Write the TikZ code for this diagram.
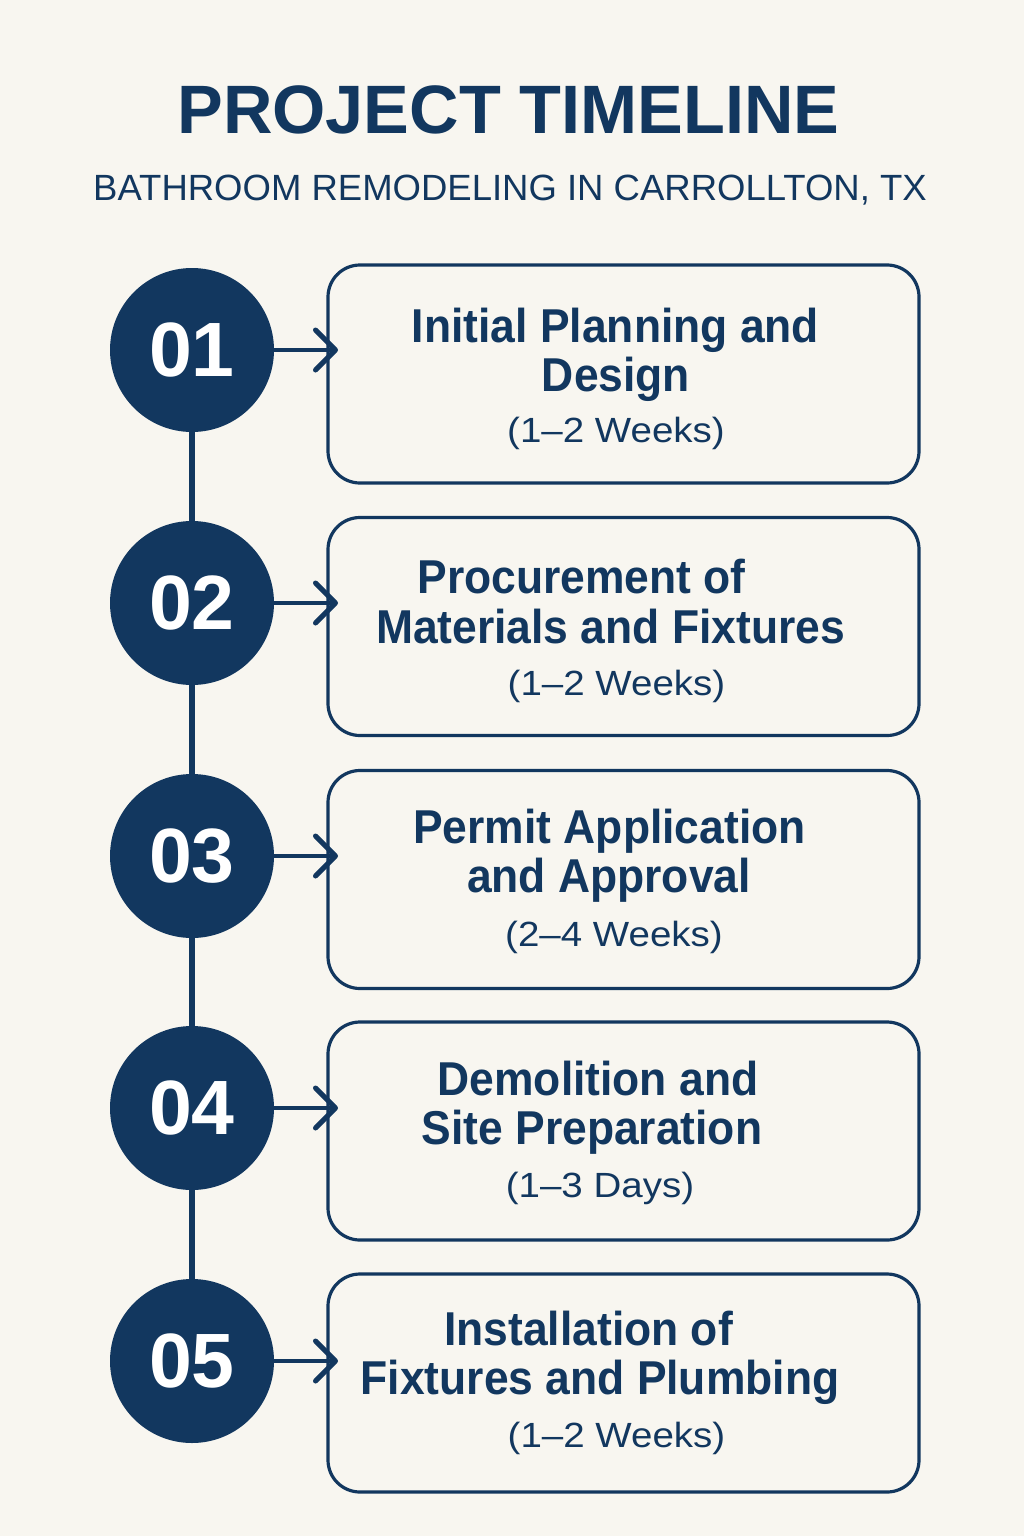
\documentclass[tikz,border=0pt]{standalone}
\usepackage{fontspec}
\setmainfont{Liberation Sans}
\newfontfamily\boldbody{Liberation Sans}[FakeStretch=0.935]
\newfontfamily\regbody{Liberation Sans}[FakeStretch=1.1]
\usetikzlibrary{arrows.meta}
\definecolor{navy}{HTML}{12375F}
\definecolor{cream}{HTML}{F8F6F0}
\tikzset{
  stepcircle/.style={circle, fill=navy, minimum size=164pt, inner sep=0pt,
    text=white, font=\fontsize{77}{80}\selectfont\bfseries},
  stepbox/.style={draw=navy, line width=3.2pt, rounded corners=32pt, fill=cream,
    minimum width=591pt, minimum height=218pt, inner sep=0pt},
  boldline/.style={anchor=base, inner sep=0pt, text=navy,
    font=\boldbody\fontsize{47.5}{50}\selectfont\bfseries},
  durline/.style={anchor=base, inner sep=0pt, text=navy,
    font=\regbody\fontsize{35}{40}\selectfont},
  spine/.style={draw=navy, line width=5.5pt},
  pointer/.style={draw=navy, line width=4.5pt, line cap=round,
    -{Straight Barb[length=20pt, width=40pt, line width=5pt, round]}}
}
\begin{document}
\begin{tikzpicture}[x=1pt,y=-1pt]
\fill[cream] (0,0) rectangle (1024,1536);
\useasboundingbox (0,0) rectangle (1024,1536);

% title
\node[anchor=base, inner sep=0pt, text=navy, font=\fontsize{68.5}{70}\selectfont\bfseries]
  (title) at (508.5,133) {PROJECT TIMELINE};
\node[anchor=base, inner sep=0pt, text=navy, font=\fontsize{36.5}{40}\selectfont]
  (subtitle) at (510,200) {BATHROOM REMODELING IN CARROLLTON, TX};

% circles
\coordinate (p1) at (192,350);
\coordinate (p2) at (192,603);
\coordinate (p3) at (192,856);
\coordinate (p4) at (192,1108);
\coordinate (p5) at (192,1361);
\draw[spine] (p1) -- (p2) -- (p3) -- (p4) -- (p5);
\node[stepcircle] (c1) at (p1) {01};
\node[stepcircle] (c2) at (p2) {02};
\node[stepcircle] (c3) at (p3) {03};
\node[stepcircle] (c4) at (p4) {04};
\node[stepcircle] (c5) at (p5) {05};

% boxes
\node[stepbox] (b1) at (623.5,374) {};
\node[stepbox] (b2) at (623.5,626.5) {};
\node[stepbox] (b3) at (623.5,879.5) {};
\node[stepbox] (b4) at (623.5,1131) {};
\node[stepbox] (b5) at (623.5,1383) {};

% arrows
\coordinate (a1) at (338,350);
\coordinate (a2) at (338,603);
\coordinate (a3) at (338,856);
\coordinate (a4) at (338,1108);
\coordinate (a5) at (338,1361);
\draw[pointer] (c1.east) -- (a1);
\draw[pointer] (c2.east) -- (a2);
\draw[pointer] (c3.east) -- (a3);
\draw[pointer] (c4.east) -- (a4);
\draw[pointer] (c5.east) -- (a5);

% texts
\node[boldline] (t11) at (615.5,342) {Initial Planning and};
\node[boldline] (t12) at (616,391) {Design};
\node[durline]  (t13) at (616,442) {(1–2 Weeks)};

\node[boldline] (t21) at (581.5,593) {Procurement of};
\node[boldline] (t22) at (610.5,643) {Materials and Fixtures};
\node[durline]  (t23) at (616.5,695) {(1–2 Weeks)};

\node[boldline] (t31) at (609.5,843) {Permit Application};
\node[boldline] (t32) at (609,892) {and Approval};
\node[durline]  (t33) at (614,946) {(2–4 Weeks)};

\node[boldline] (t41) at (598,1095) {Demolition and};
\node[boldline] (t42) at (592,1144) {Site Preparation};
\node[durline]  (t43) at (600,1197) {(1–3 Days)};

\node[boldline] (t51) at (588.5,1345) {Installation of};
\node[boldline] (t52) at (600,1394) {Fixtures and Plumbing};
\node[durline]  (t53) at (616.5,1447) {(1–2 Weeks)};
\end{tikzpicture}
\end{document}
